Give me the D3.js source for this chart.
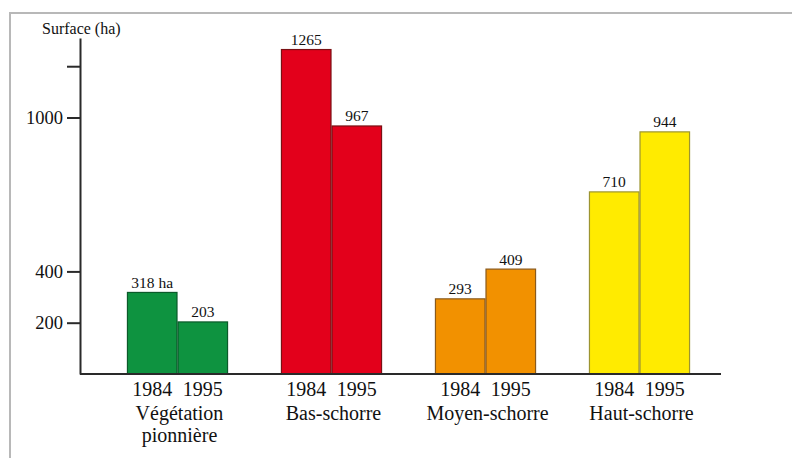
<!DOCTYPE html>
<html>
<head>
<meta charset="utf-8">
<script src="https://cdn.jsdelivr.net/npm/d3@7"></script>
<style>
  html, body { margin: 0; padding: 0; background: #fff; }
  svg { display: block; }
  text { font-family: "Liberation Serif", "DejaVu Serif", serif; fill: #111; }
</style>
</head>
<body>
<svg id="chart" width="792" height="458"></svg>
<script>
// Surfaces by vegetation zone (ha), 1984 vs 1995
const categories = ["Végétation\npionnière", "Bas-schorre", "Moyen-schorre", "Haut-schorre"];
const years = ["1984", "1995"];
const values1984 = [318, 1265, 293, 710];
const values1995 = [203, 967, 409, 944];
const valueLabels1984 = ["318 ha", "1265", "293", "710"];
const valueLabels1995 = ["203", "967", "409", "944"];
const fills = ["#0e9340", "#e3001b", "#f29100", "#ffeb00"];
const strokes = ["#0b5a2a", "#7a1014", "#8a5a1c", "#9c9430"];
const yTicks = [200, 400, 1000, 1200];
const yTickLabels = ["200", "400", "1000", ""];

const svg = d3.select("#chart");

// outer frame (top and left edges)
svg.append("path")
  .attr("d", "M10,458 V13 H792")
  .attr("fill", "none")
  .attr("stroke", "#b8b8b8")
  .attr("stroke-width", 2);

const y = d3.scaleLinear().domain([0, 1310]).range([374, 38]);
const x0 = d3.scaleBand().domain(categories).range([100.5, 716.5])
  .paddingInner(0.35).paddingOuter(0.175);
const x1 = d3.scaleBand().domain(years).range([0, x0.bandwidth()]).paddingInner(0.02);

const rows = categories.map((c, i) => ({
  cat: c, i,
  bars: [
    { year: years[0], v: values1984[i], label: valueLabels1984[i] },
    { year: years[1], v: values1995[i], label: valueLabels1995[i] }
  ]
}));

const groups = svg.append("g").selectAll("g").data(rows).join("g")
  .attr("transform", d => `translate(${x0(d.cat)},0)`);

groups.selectAll("rect").data(d => d.bars.map(b => ({ ...b, i: d.i }))).join("rect")
  .attr("x", b => x1(b.year))
  .attr("y", b => y(b.v))
  .attr("width", x1.bandwidth())
  .attr("height", b => y(0) - y(b.v))
  .attr("fill", b => fills[b.i])
  .attr("stroke", b => strokes[b.i])
  .attr("stroke-width", 1.2);

groups.selectAll("text.val").data(d => d.bars).join("text")
  .attr("class", "val")
  .attr("x", b => x1(b.year) + x1.bandwidth() / 2)
  .attr("y", b => y(b.v) - 4.5)
  .attr("text-anchor", "middle")
  .attr("font-size", 15.5)
  .text(b => b.label);

// year labels under bars
groups.selectAll("text.yr").data(d => d.bars).join("text")
  .attr("class", "yr")
  .attr("x", b => x1(b.year) + x1.bandwidth() / 2)
  .attr("y", 396)
  .attr("text-anchor", "middle")
  .attr("font-size", 20)
  .text(b => b.year);

// category names (multi-line)
groups.append("text")
  .attr("x", x0.bandwidth() / 2 + 2)
  .attr("y", 420)
  .attr("text-anchor", "middle")
  .attr("font-size", 20)
  .selectAll("tspan").data(d => d.cat.split("\n")).join("tspan")
  .attr("x", x0.bandwidth() / 2 + 2)
  .attr("dy", (t, k) => k === 0 ? 0 : 21.5)
  .text(t => t);

// x axis baseline
svg.append("line")
  .attr("x1", 80).attr("x2", 721)
  .attr("y1", y(0)).attr("y2", y(0))
  .attr("stroke", "#2a2a2a").attr("stroke-width", 2);

// y axis
const yAxis = svg.append("g")
  .attr("transform", "translate(80,0)")
  .call(d3.axisLeft(y).tickValues(yTicks).tickSize(13).tickSizeOuter(0)
    .tickFormat((d, k) => yTickLabels[k]));
yAxis.select(".domain").attr("stroke", "#2a2a2a").attr("stroke-width", 2);
yAxis.selectAll(".tick line").attr("stroke", "#2a2a2a").attr("stroke-width", 2);
yAxis.selectAll(".tick text")
  .attr("font-family", "Liberation Serif, serif")
  .attr("font-size", 18.5)
  .attr("fill", "#111")
  .attr("x", -17)
  .attr("dy", "0.34em");

svg.append("text")
  .attr("x", 42).attr("y", 34)
  .attr("font-size", 16)
  .text("Surface (ha)");
</script>
</body>
</html>
